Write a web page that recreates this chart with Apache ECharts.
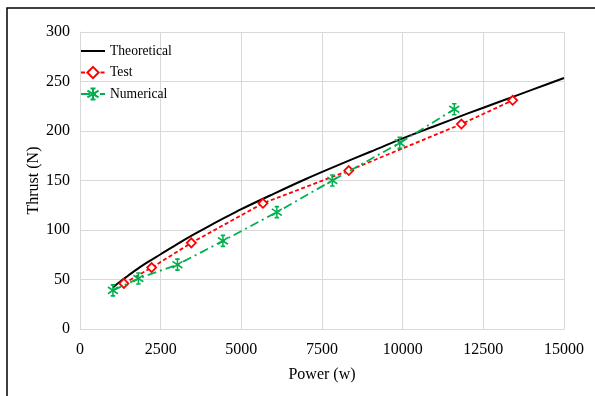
<!DOCTYPE html>
<html><head><meta charset="utf-8">
<script src="https://cdn.jsdelivr.net/npm/echarts@6/dist/echarts.min.js"></script>
<style>html,body{margin:0;padding:0;background:#fff}#c{width:595px;height:396px}</style>
</head><body><div id="c"></div>
<script>
const theoPower = [1020,1250,1500,1750,2000,2500,3000,3500,4000,5000,6000,7000,8000,9000,10000,11000,12000,13000,14000,15000];
const theoThrust = [42,48,54,60,65.5,75.5,85.5,95,104,121,136.5,151.5,165.5,179,192.5,205,217.5,229.5,241.5,253.5];
const testPower = [1360,2220,3450,5670,8330,11820,13410];
const testThrust = [46,62,87,127,160,207,231];
const numPower = [1020,1810,3020,4430,6100,7820,9910,11600];
const numThrust = [39,51,65,89,118,150,188,222];
const xTicks = [0,2500,5000,7500,10000,12500,15000];
const yTicks = [0,50,100,150,200,250,300];

const font = '"Liberation Serif", "Times New Roman", serif';
const zip = (a,b)=>a.map((v,i)=>[v,b[i]]);
const star = 'path://M0,-5L0,5M-4.5,-3L4.5,3M-4.5,3L4.5,-3M-2,-5L2,-5M-2,5L2,5';

const chart = echarts.init(document.getElementById('c'));
chart.setOption({
  animation:false,
  textStyle:{fontFamily:font},
  grid:{left:80,right:31,top:32,bottom:67},
  graphic:[{type:'rect',shape:{x:7,y:8,width:700,height:500},style:{fill:'none',stroke:'#000',lineWidth:1.5},z:-1}],
  legend:{
    orient:'vertical',left:75,top:39,itemWidth:24,itemHeight:14,itemGap:7.5,
    textStyle:{fontFamily:font,fontSize:13.6,color:'#000'},
    data:[{name:'Theoretical',itemStyle:{opacity:0}},'Test','Numerical']
  },
  xAxis:{
    type:'value',min:xTicks[0],max:xTicks[xTicks.length-1],interval:2500,
    name:'Power (w)',nameLocation:'middle',nameGap:38,
    nameTextStyle:{fontFamily:font,fontSize:16,color:'#000'},
    axisLine:{lineStyle:{color:'#d9d9d9'}},axisTick:{show:false},
    axisLabel:{fontFamily:font,fontSize:16,color:'#000',margin:13,formatter:v=>String(v)},
    splitLine:{lineStyle:{color:'#d9d9d9',width:1}}
  },
  yAxis:{
    type:'value',min:yTicks[0],max:yTicks[yTicks.length-1],interval:50,
    name:'Thrust (N)',nameLocation:'middle',nameGap:38,nameMoveOverlap:false,
    nameTextStyle:{fontFamily:font,fontSize:16,color:'#000'},
    axisLine:{show:true,lineStyle:{color:'#d9d9d9'}},axisTick:{show:false},
    axisLabel:{fontFamily:font,fontSize:16,color:'#000',margin:10,formatter:v=>String(v)},
    splitLine:{lineStyle:{color:'#d9d9d9',width:1}}
  },
  series:[
    {name:'Theoretical',type:'line',smooth:0.3,showSymbol:false,symbol:'none',
     data:zip(theoPower,theoThrust),lineStyle:{color:'#000',width:2},itemStyle:{color:'#000'},z:3},
    {name:'Test',type:'line',symbol:'diamond',symbolSize:9,
     data:zip(testPower,testThrust),
     lineStyle:{color:'#ff0000',width:1.8,type:[4,2.5]},
     itemStyle:{color:'#fff',borderColor:'#ff0000',borderWidth:1.8},z:4},
    {name:'Numerical',type:'line',symbol:star,symbolSize:[10,11],
     data:zip(numPower,numThrust),
     lineStyle:{color:'#00b050',width:1.8,type:[9,4,2,4]},
     itemStyle:{color:'#00b050',borderColor:'#00b050',borderWidth:1.6},z:5}
  ]
});
</script></body></html>
